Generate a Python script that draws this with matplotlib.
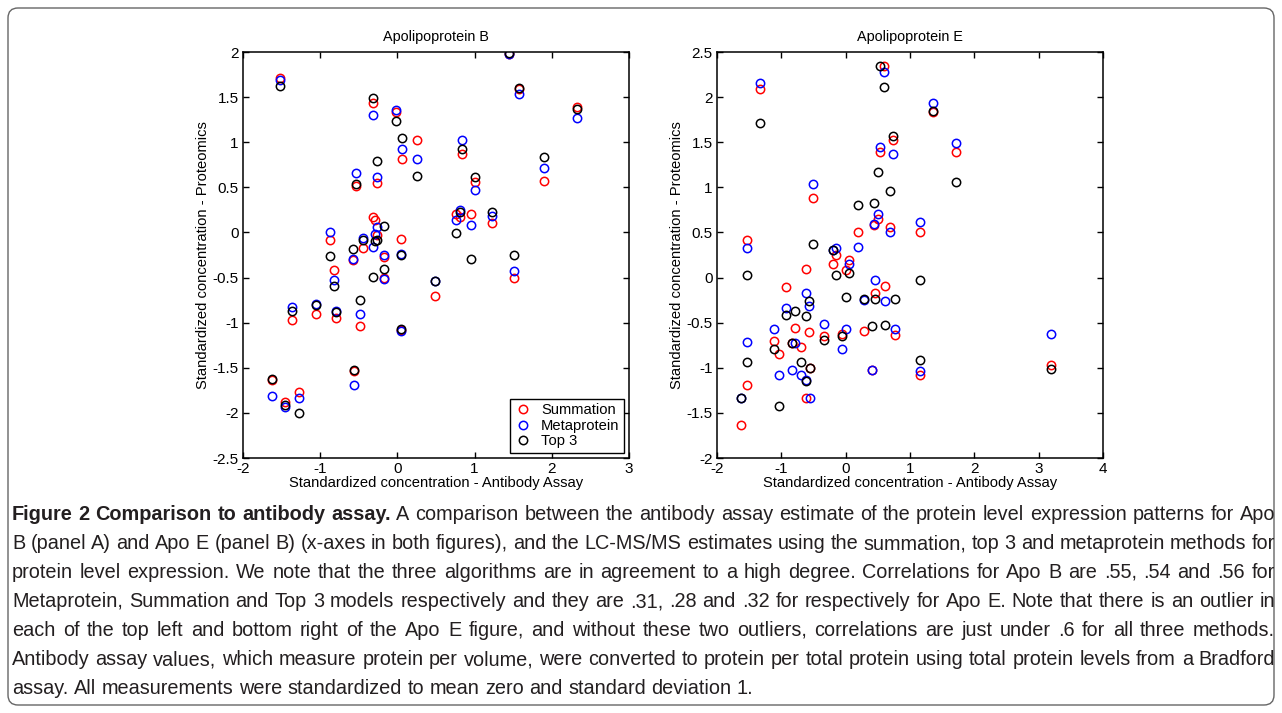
import matplotlib
matplotlib.use('Agg')
import matplotlib.pyplot as plt
from matplotlib.patches import FancyBboxPatch
from matplotlib.transforms import IdentityTransform
from matplotlib.ticker import FuncFormatter

plt.rcParams['font.family'] = ['Liberation Sans', 'DejaVu Sans']
plt.rcParams['axes.unicode_minus'] = False

# Apolipoprotein B: antibody assay (x) vs proteomics estimates (y)
apob_x = [-1.63, -1.52, -1.46, -1.36, -1.28, -1.06, -0.87, -0.82, -0.80, -0.57,
          -0.56, -0.53, -0.48, -0.44, -0.32, -0.32, -0.29, -0.27, -0.26, -0.18,
          -0.18, -0.02, 0.05, 0.05, 0.06, 0.25, 0.49, 0.76, 0.81, 0.84,
          0.95, 1.01, 1.22, 1.44, 1.51, 1.58, 1.90, 2.33]
apob_sum = [-1.63, 1.71, -1.88, -0.97, -1.77, -0.90, -0.08, -0.42, -0.95, -0.31,
            -1.54, 0.51, -1.04, -0.17, 1.43, 0.17, 0.14, 0.55, -0.03, -0.51,
            -0.27, 1.33, -0.07, -1.08, 0.81, 1.03, -0.70, 0.20, 0.17, 0.87,
            0.20, 0.56, 0.11, 1.98, -0.50, 1.59, 0.57, 1.39]
apob_meta = [-1.81, 1.69, -1.94, -0.83, -1.83, -0.79, 0.00, -0.53, -0.87, -0.29,
             -1.69, 0.66, -0.90, -0.06, 1.30, -0.16, -0.02, 0.61, 0.06, -0.52,
             -0.25, 1.36, -0.24, -1.09, 0.92, 0.81, -0.54, 0.14, 0.25, 1.03,
             0.08, 0.47, 0.18, 1.98, -0.43, 1.53, 0.71, 1.27]
apob_top3 = [-1.62, 1.62, -1.91, -0.87, -2.00, -0.80, -0.26, -0.59, -0.88, -0.18,
             -1.52, 0.54, -0.75, -0.08, 1.49, -0.49, -0.09, 0.79, -0.08, -0.40,
             0.07, 1.24, -0.25, -1.07, 1.05, 0.63, -0.54, -0.01, 0.23, 0.93,
             -0.29, 0.62, 0.23, 1.99, -0.25, 1.60, 0.84, 1.37]

# Apolipoprotein E
apoe_x = [-1.62, -1.53, -1.54, -1.33, -1.11, -1.04, -0.92, -0.84, -0.78, -0.70,
          -0.61, -0.62, -0.57, -0.55, -0.51, -0.33, -0.20, -0.15, -0.05, 0.00,
          0.05, 0.19, 0.29, 0.41, 0.44, 0.45, 0.50, 0.54, 0.60, 0.61,
          0.69, 0.74, 0.77, 1.16, 1.16, 1.35, 1.71, 3.19]
apoe_sum = [-1.63, 0.42, -1.19, 2.09, -0.70, -0.85, -0.11, -0.73, -0.56, -0.77,
            0.10, -1.33, -0.60, -1.00, 0.88, -0.65, 0.15, 0.25, -0.63, 0.08,
            0.20, 0.51, -0.59, -1.03, 0.58, -0.17, 0.65, 1.39, 2.35, -0.09,
            0.56, 1.53, -0.64, 0.51, -1.08, 1.83, 1.39, -0.97]
apoe_meta = [-1.34, 0.33, -0.71, 2.16, -0.57, -1.08, -0.34, -1.03, -0.73, -1.08,
             -0.17, -1.14, -0.31, -1.33, 1.04, -0.52, 0.31, 0.33, -0.79, -0.57,
             0.15, 0.34, -0.25, -1.02, 0.59, -0.03, 0.70, 1.45, 2.28, -0.26,
             0.51, 1.37, -0.57, 0.62, -1.04, 1.93, 1.49, -0.63]
apoe_top3 = [-1.33, 0.03, -0.94, 1.71, -0.79, -1.42, -0.41, -0.73, -0.37, -0.94,
             -0.43, -1.15, -0.26, -1.00, 0.37, -0.69, 0.30, 0.03, -0.65, -0.21,
             0.05, 0.80, -0.24, -0.54, 0.83, -0.24, 1.17, 2.35, 2.11, -0.53,
             0.96, 1.57, -0.24, -0.03, -0.91, 1.85, 1.06, -1.01]

caption_lines = [
    "B (panel A) and Apo E (panel B) (x-axes in both figures), and the LC-MS/MS estimates using the summation, top 3 and metaprotein methods for",
    "protein level expression. We note that the three algorithms are in agreement to a high degree. Correlations for Apo B are .55, .54 and .56 for",
    "Metaprotein, Summation and Top 3 models respectively and they are .31, .28 and .32 for respectively for Apo E. Note that there is an outlier in",
    "each of the top left and bottom right of the Apo E figure, and without these two outliers, correlations are just under .6 for all three methods.",
    "Antibody assay values, which measure protein per volume, were converted to protein per total protein using total protein levels from a Bradford",
    "assay. All measurements were standardized to mean zero and standard deviation 1.",
]
caption_bold = "Figure 2 Comparison to antibody assay."
caption_first = "A comparison between the antibody assay estimate of the protein level expression patterns for Apo"

W, H = 1282, 713
fig = plt.figure(figsize=(W / 100, H / 100), dpi=100)

# rounded frame around the whole figure
frame = FancyBboxPatch((8, 8), 1266, 697, boxstyle='round,pad=0,rounding_size=10',
                       transform=IdentityTransform(), facecolor='none',
                       edgecolor='#666666', linewidth=1.0)
fig.add_artist(frame)

axB = fig.add_axes([243 / W, 1 - 458 / H, 386 / W, 406 / H])
axE = fig.add_axes([717 / W, 1 - 458 / H, 386 / W, 406 / H])

fmt = FuncFormatter(lambda v, _: '%g' % v)
panels = [
    (axB, apob_x, apob_sum, apob_meta, apob_top3, 'Apolipoprotein B',
     (-2, 3), (-2.5, 2), [-2, -1, 0, 1, 2, 3]),
    (axE, apoe_x, apoe_sum, apoe_meta, apoe_top3, 'Apolipoprotein E',
     (-2, 4), (-2, 2.5), [-2, -1, 0, 1, 2, 3, 4]),
]
for ax, x, s, m, t, title, xl, yl, xt in panels:
    ax.plot(x, s, 'o', color='red', mfc='none', ms=6, mew=1.1, label='Summation')
    ax.plot(x, m, 'o', color='blue', mfc='none', ms=6, mew=1.1, label='Metaprotein')
    ax.plot(x, t, 'o', color='black', mfc='none', ms=6, mew=1.1, label='Top 3')
    ax.set_xlim(xl)
    ax.set_ylim(yl)
    ax.set_xticks(xt)
    ax.set_yticks([v / 2 for v in range(int(yl[0] * 2), int(yl[1] * 2) + 1)])
    ax.xaxis.set_major_formatter(fmt)
    ax.yaxis.set_major_formatter(fmt)
    ax.tick_params(direction='in', top=True, right=True, length=4, width=1,
                   labelsize=11, pad=3)
    for sp in ax.spines.values():
        sp.set_linewidth(1.1)
    ax.set_title(title, fontsize=10.4, pad=8)
    ax.set_xlabel('Standardized concentration - Antibody Assay', fontsize=10.6, labelpad=0)
    ax.set_ylabel('Standardized concentration - Proteomics', fontsize=10.6, labelpad=2)

leg = axB.legend(loc='lower right', fancybox=False, edgecolor='black', framealpha=1,
                 handlelength=1.2, handletextpad=0.6, borderaxespad=0.35,
                 fontsize=10.6, labelspacing=0.1, borderpad=0.3)
leg.get_frame().set_linewidth(1.0)

# caption, justified line by line
renderer = fig.canvas.get_renderer()
cap_font = ['Liberation Sans Narrow', 'Liberation Sans', 'DejaVu Sans']
cap_color = '#231f20'


def width(s, size, weight='normal'):
    tt = fig.text(0, 0, s, fontsize=size, fontweight=weight, family=cap_font)
    w = tt.get_window_extent(renderer).width
    tt.remove()
    return w


x_left, x_right = 12, 1275
size0 = 10
cap_size = size0 * (x_right - x_left) / width(caption_lines[0], size0)

all_lines = [[(w, 'bold') for w in caption_bold.split(' ')] +
             [(w, 'normal') for w in caption_first.split(' ')]]
for line in caption_lines:
    all_lines.append([(w, 'normal') for w in line.split(' ')])

space_w = width('a b', cap_size) - width('ab', cap_size)
baseline0 = 520
line_step = 29
for i, tokens in enumerate(all_lines):
    widths = [width(w, cap_size, wt) for w, wt in tokens]
    if i < len(all_lines) - 1:
        gap = (x_right - x_left - sum(widths)) / (len(tokens) - 1)
    else:
        gap = space_w
    xpos = x_left
    ypix = H - (baseline0 + i * line_step)
    for (w, wt), ww in zip(tokens, widths):
        fig.text(xpos / W, ypix / H, w, fontsize=cap_size, fontweight=wt,
                 family=cap_font, color=cap_color, va='baseline', ha='left')
        xpos += ww + gap

fig.savefig('out.png', dpi=100)
